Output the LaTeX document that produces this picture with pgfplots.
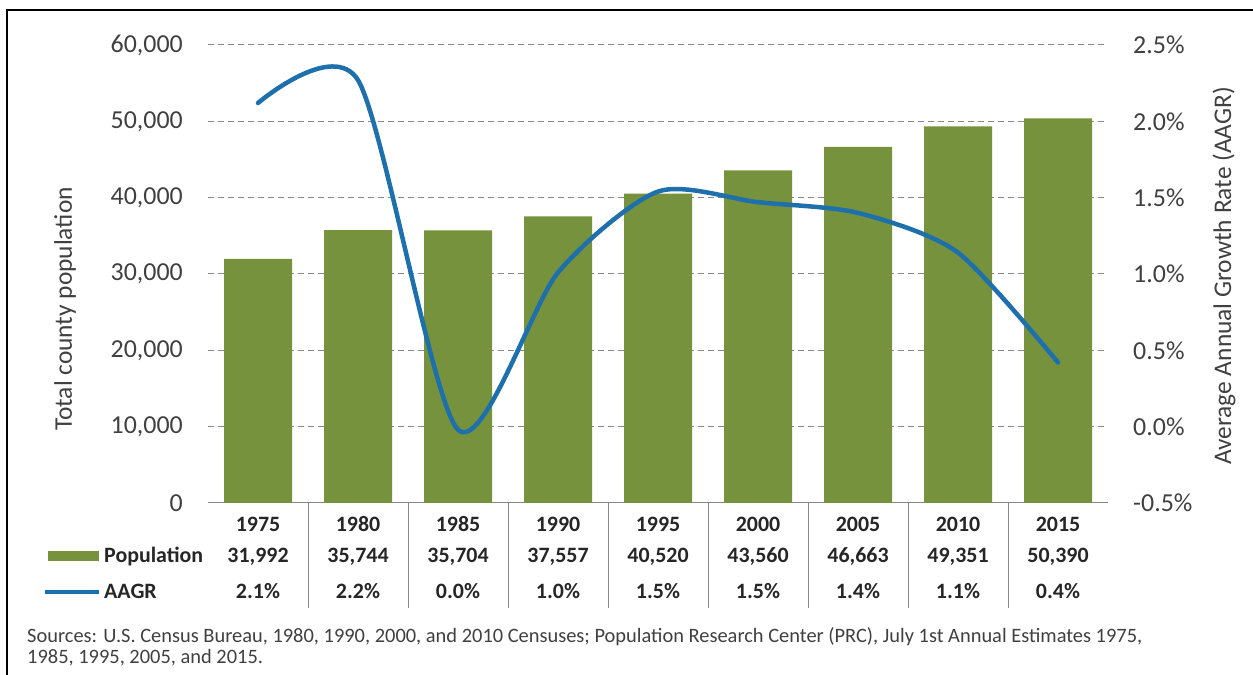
\documentclass[border=0pt]{standalone}
\usepackage{pgfplots}
\pgfplotsset{compat=1.18}
\usepackage{fontspec}
\setmainfont{Carlito}

\definecolor{popgreen}{RGB}{118,146,60}
\definecolor{aagrblue}{RGB}{30,112,172}
\definecolor{gridgray}{RGB}{135,135,135}
\definecolor{labgray}{RGB}{64,64,64}
\definecolor{tabtext}{RGB}{38,38,38}

\newcommand\tickfont{\fontsize{26}{30}\selectfont}
\newcommand\titlefont{\fontsize{25.5}{30}\selectfont}
\newcommand\tabfont{\fontsize{22}{26}\selectfont\bfseries}
\newcommand\footfont{\fontsize{20.5}{24}\selectfont}

\begin{document}
\begin{tikzpicture}[x=1bp,y=1bp]
\useasboundingbox (0,0) rectangle (1253,675);
\fill[white] (0,0) rectangle (1253,675);

% population bars, left axis
\begin{axis}[
  at={(208bp,172bp)}, anchor=south west,
  scale only axis, width=900bp, height=458bp,
  xmin=-0.5, xmax=8.5, ymin=0, ymax=60000,
  ybar, bar width=68bp,
  axis x line*=bottom, axis y line*=left,
  x axis line style={gridgray, line width=1bp},
  y axis line style={draw=none},
  xtick=\empty, ytick={0,10000,...,60000},
  major tick length=0pt,
  ymajorgrids,
  grid style={gridgray, line width=1bp, dash pattern=on 6bp off 4bp},
  yticklabel style={font=\tickfont, text=labgray, inner sep=0pt, xshift=-25bp},
  /pgf/number format/1000 sep={,},
  /pgf/number format/assume math mode=true,
  scaled y ticks=false,
]
\addplot[fill=popgreen, draw=none] coordinates {
  (0,31992) (1,35744) (2,35704) (3,37557) (4,40520)
  (5,43560) (6,46663) (7,49351) (8,50390)};
\end{axis}

% AAGR line, right axis
\begin{axis}[
  at={(208bp,172bp)}, anchor=south west,
  scale only axis, width=900bp, height=458bp,
  xmin=-0.5, xmax=8.5, ymin=-0.5, ymax=2.5,
  axis x line=none, axis y line*=right,
  y axis line style={draw=none},
  ytick={-0.5,0,...,2.5},
  major tick length=0pt,
  yticklabel={\pgfmathprintnumber[fixed,fixed zerofill,precision=1]{\tick}\%},
  yticklabel style={font=\tickfont, text=labgray, inner sep=0pt, xshift=25bp},
  /pgf/number format/assume math mode=true,
]
\addplot[aagrblue, line width=4.5bp, line cap=round, smooth, tension=0.45] coordinates {
  (0,2.12) (1,2.27) (2,-0.02) (3,1.01) (4,1.54)
  (5,1.47) (6,1.40) (7,1.14) (8,0.42)};
\end{axis}

% axis titles
\node[rotate=90, font=\titlefont, text=labgray] at (65,366) {Total county population};
\node[rotate=90, font=\titlefont, text=labgray] at (1224,399) {Average Annual Growth Rate (AAGR)};

% data table
\foreach \k in {1,...,8}
  \draw[gridgray, line width=1bp] (208+100*\k,172) -- (208+100*\k,67);
\foreach \i/\yr/\pop/\gr in {0/1975/{31,992}/2.1, 1/1980/{35,744}/2.2, 2/1985/{35,704}/0.0,
    3/1990/{37,557}/1.0, 4/1995/{40,520}/1.5, 5/2000/{43,560}/1.5, 6/2005/{46,663}/1.4,
    7/2010/{49,351}/1.1, 8/2015/{50,390}/0.4} {
  \node[anchor=base, font=\tabfont, text=tabtext, inner sep=0pt] at (258+100*\i,143) {\yr};
  \node[anchor=base, font=\tabfont, text=tabtext, inner sep=0pt] at (258+100*\i,112) {\pop};
  \node[anchor=base, font=\tabfont, text=tabtext, inner sep=0pt] at (258+100*\i,76) {\gr\%};
}
\fill[popgreen] (48,114) rectangle (99,124);
\draw[aagrblue, line width=4bp] (45,83) -- (99,83);
\node[anchor=base west, font=\tabfont, text=tabtext, inner sep=0pt] at (104,112) {Population};
\node[anchor=base west, font=\tabfont, text=tabtext, inner sep=0pt] at (104,76) {AAGR};

% source note
\node[anchor=base west, font=\footfont, text=labgray, inner sep=0pt] at (27,32)
  {Sources: U.S. Census Bureau, 1980, 1990, 2000, and 2010 Censuses; Population Research Center (PRC), July 1st Annual Estimates 1975,};
\node[anchor=base west, font=\footfont, text=labgray, inner sep=0pt] at (27,11)
  {1985, 1995, 2005, and 2015.};

% frame
\draw[black, line width=1.5bp] (7,0) -- (7,665) -- (1253,665);
\end{tikzpicture}
\end{document}
